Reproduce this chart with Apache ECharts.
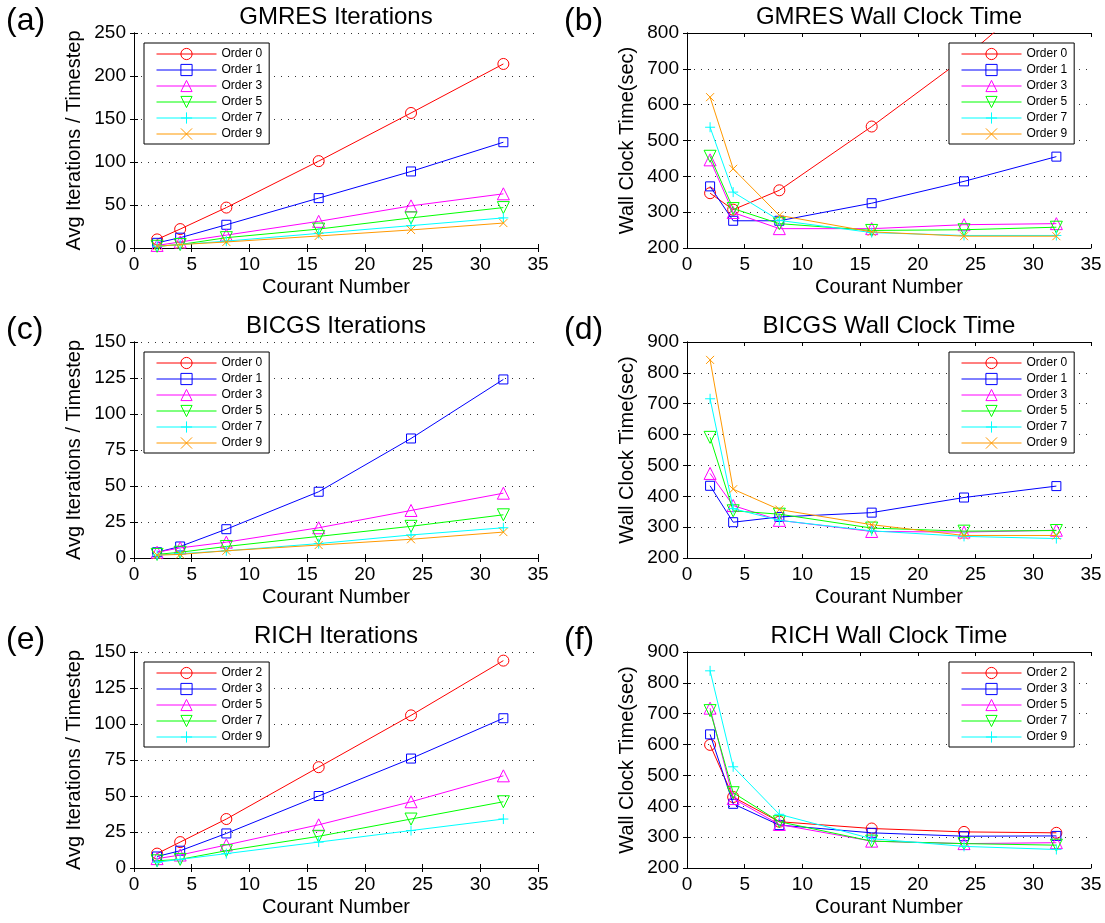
<!DOCTYPE html>
<html>
<head>
<meta charset="utf-8">
<script src="https://cdn.jsdelivr.net/npm/echarts@6/dist/echarts.min.js"></script>
<style>
  html, body { margin: 0; padding: 0; background: #fff; }
  #chart { width: 1105px; height: 923px; }
</style>
</head>
<body>
<div id="chart"></div>
<script>
// Courant numbers shared by every panel
const courant = [2, 4, 8, 16, 24, 32];

const xTicks = { min: 0, max: 35, interval: 5 };

// (a) GMRES iterations
const gmresIterNames = ['Order 0', 'Order 1', 'Order 3', 'Order 5', 'Order 7', 'Order 9'];
const gmresIter0 = [10, 22, 47, 101, 157, 214];
const gmresIter1 = [6, 12, 27, 58, 89, 123];
const gmresIter3 = [3, 7, 15, 31, 49, 63];
const gmresIter5 = [2, 4, 12, 22, 35, 47];
const gmresIter7 = [2, 4, 8, 17, 26, 35];
const gmresIter9 = [2, 4, 7, 14, 21, 29];

// (b) GMRES wall clock time
const gmresTime0 = [353, 307, 361, 539, 730, 950];
const gmresTime1 = [372, 276, 276, 325, 386, 455];
const gmresTime3 = [446, 299, 254, 254, 265, 268];
const gmresTime5 = [456, 310, 268, 249, 251, 258];
const gmresTime7 = [537, 356, 277, 243, 235, 235];
const gmresTime9 = [621, 421, 291, 245, 233, 233];

// (c) BICGS iterations (order 0 has no points)
const bicgsIter0 = [];
const bicgsIter1 = [4, 8, 20, 46, 83, 124];
const bicgsIter3 = [4, 7, 11, 21, 33, 45];
const bicgsIter5 = [2.5, 4, 8, 15, 22, 30];
const bicgsIter7 = [2, 3, 5, 10, 16, 21];
const bicgsIter9 = [2, 2.5, 5, 9, 13, 18];

// (d) BICGS wall clock time
const bicgsTime0 = [];
const bicgsTime1 = [434, 316, 333, 347, 396, 433];
const bicgsTime3 = [474, 370, 322, 286, 284, 290];
const bicgsTime5 = [591, 353, 342, 297, 287, 289];
const bicgsTime7 = [716, 360, 322, 288, 270, 263];
const bicgsTime9 = [842, 423, 357, 308, 273, 273];

// (e) RICH iterations
const richNames = ['Order 2', 'Order 3', 'Order 5', 'Order 7', 'Order 9'];
const richIter2 = [10, 18, 34, 70, 106, 144];
const richIter3 = [8, 12, 24, 50, 76, 104];
const richIter5 = [6.5, 9, 16, 30, 46, 64];
const richIter7 = [5, 6, 12, 22, 34, 46];
const richIter9 = [4, 6, 10, 18, 26, 34];

// (f) RICH wall clock time
const richTime2 = [599, 430, 350, 328, 317, 314];
const richTime3 = [633, 408, 339, 314, 303, 304];
const richTime5 = [718, 425, 341, 287, 279, 282];
const richTime7 = [710, 444, 350, 287, 279, 274];
const richTime9 = [839, 528, 374, 295, 270, 260];

const FONT = "'Liberation Sans', Arial, sans-serif";

// marker style by position in legend (matlab look)
const styles = [
  { color: '#ff0000', symbol: 'circle', size: 11 },
  { color: '#0000ff', symbol: 'rect', size: 9 },
  { color: '#ff00ff', symbol: 'triangle', size: 12 },
  { color: '#00ff00', symbol: 'path://M0,0 L10,0 L5,8.66 Z', size: 12 },
  { color: '#00ffff', symbol: 'path://M5,0 L5,10 M0,5 L10,5', size: 10 },
  { color: '#ff9900', symbol: 'path://M0,0 L10,10 M10,0 L0,10', size: 8 }
];

const panels = [
  { tag: 'a', title: 'GMRES Iterations', yName: 'Avg Iterations / Timestep', ymin: 0, ymax: 250, yint: 50,
    names: gmresIterNames, data: [gmresIter0, gmresIter1, gmresIter3, gmresIter5, gmresIter7, gmresIter9] },
  { tag: 'b', title: 'GMRES Wall Clock Time', yName: 'Wall Clock Time(sec)', ymin: 200, ymax: 800, yint: 100,
    names: gmresIterNames, data: [gmresTime0, gmresTime1, gmresTime3, gmresTime5, gmresTime7, gmresTime9] },
  { tag: 'c', title: 'BICGS Iterations', yName: 'Avg Iterations / Timestep', ymin: 0, ymax: 150, yint: 25,
    names: gmresIterNames, data: [bicgsIter0, bicgsIter1, bicgsIter3, bicgsIter5, bicgsIter7, bicgsIter9] },
  { tag: 'd', title: 'BICGS Wall Clock Time', yName: 'Wall Clock Time(sec)', ymin: 200, ymax: 900, yint: 100,
    names: gmresIterNames, data: [bicgsTime0, bicgsTime1, bicgsTime3, bicgsTime5, bicgsTime7, bicgsTime9] },
  { tag: 'e', title: 'RICH Iterations', yName: 'Avg Iterations / Timestep', ymin: 0, ymax: 150, yint: 25,
    names: richNames, data: [richIter2, richIter3, richIter5, richIter7, richIter9] },
  { tag: 'f', title: 'RICH Wall Clock Time', yName: 'Wall Clock Time(sec)', ymin: 200, ymax: 900, yint: 100,
    names: richNames, data: [richTime2, richTime3, richTime5, richTime7, richTime9] }
];

const colLeft = [134, 687];
const rowTop = [33, 342, 652];
const rowH = [215, 216, 216];
const plotW = 404;

const grid = [], xAxis = [], yAxis = [], series = [], legend = [], graphic = [];

panels.forEach(function (p, i) {
  const col = i % 2, row = Math.floor(i / 2);
  const left = colLeft[col], top = rowTop[row];
  grid.push({ left: left, top: top, width: plotW, height: rowH[row] });

  const lineBlack = { show: true, lineStyle: { color: '#000', width: 1 } };
  const tick = { show: true, inside: true, length: 4, lineStyle: { color: '#000' } };

  xAxis.push({
    type: 'value', gridIndex: i, min: xTicks.min, max: xTicks.max, interval: xTicks.interval,
    name: 'Courant Number', nameLocation: 'middle', nameGap: 29,
    nameTextStyle: { fontFamily: FONT, fontSize: 20, color: '#000' },
    axisLine: lineBlack, axisTick: tick, splitLine: { show: false },
    axisLabel: { fontFamily: FONT, fontSize: 19, color: '#000', margin: 7 }
  });
  xAxis.push({
    type: 'value', gridIndex: i, position: 'top', min: xTicks.min, max: xTicks.max, interval: xTicks.interval,
    axisLine: lineBlack, axisTick: tick, splitLine: { show: false }, axisLabel: { show: false }
  });
  yAxis.push({
    type: 'value', gridIndex: i, min: p.ymin, max: p.ymax, interval: p.yint,
    name: p.yName, nameLocation: 'middle', nameGap: 50,
    nameTextStyle: { fontFamily: FONT, fontSize: 20, color: '#000' },
    axisLine: lineBlack, axisTick: tick,
    splitLine: { show: true, lineStyle: { color: '#333', width: 1, type: [1, 6] } },
    axisLabel: { fontFamily: FONT, fontSize: 19, color: '#000', margin: 8 }
  });
  yAxis.push({
    type: 'value', gridIndex: i, position: 'right', min: p.ymin, max: p.ymax, interval: p.yint,
    axisLine: lineBlack, axisTick: tick, splitLine: { show: false }, axisLabel: { show: false }
  });

  const legendNames = [];
  p.names.forEach(function (n, k) {
    const st = styles[k];
    const key = p.tag + '|' + n;
    legendNames.push(key);
    series.push({
      type: 'line', name: key, xAxisIndex: 2 * i, yAxisIndex: 2 * i,
      data: p.data[k].map(function (v, j) { return [courant[j], v]; }),
      symbol: st.symbol, symbolSize: st.size, showAllSymbol: true,
      lineStyle: { color: st.color, width: 1 },
      itemStyle: { color: 'rgba(0,0,0,0)', borderColor: st.color, borderWidth: 1 },
      emphasis: { disabled: true },
      animation: false, z: 3 + k
    });
  });

  legend.push({
    data: legendNames,
    formatter: function (name) { return name.split('|')[1]; },
    orient: 'vertical',
    left: col === 0 ? 144 : 949, top: top + 10,
    itemWidth: 60, itemHeight: 14, itemGap: 2,
    padding: [4, 7, 3, 12],
    backgroundColor: '#fff', borderColor: '#000', borderWidth: 1,
    itemStyle: { borderWidth: 1 },
    lineStyle: { width: 1 },
    textStyle: { fontFamily: FONT, fontSize: 12, color: '#000', lineHeight: 14 },
    selectedMode: false, z: 10
  });

  graphic.push({
    type: 'text', x: left + plotW / 2, y: top - 15.5,
    style: { text: p.title, font: '24px ' + FONT, fill: '#000', textAlign: 'center', textVerticalAlign: 'middle' }
  });
  graphic.push({
    type: 'text', x: col === 0 ? 6 : 564, y: top - 12,
    style: { text: '(' + p.tag + ')', font: '32px ' + FONT, fill: '#000', textAlign: 'left', textVerticalAlign: 'middle' }
  });
});

const chart = echarts.init(document.getElementById('chart'));
chart.setOption({
  backgroundColor: '#fff',
  animation: false,
  grid: grid,
  xAxis: xAxis,
  yAxis: yAxis,
  legend: legend,
  series: series,
  graphic: graphic
});
</script>
</body>
</html>
